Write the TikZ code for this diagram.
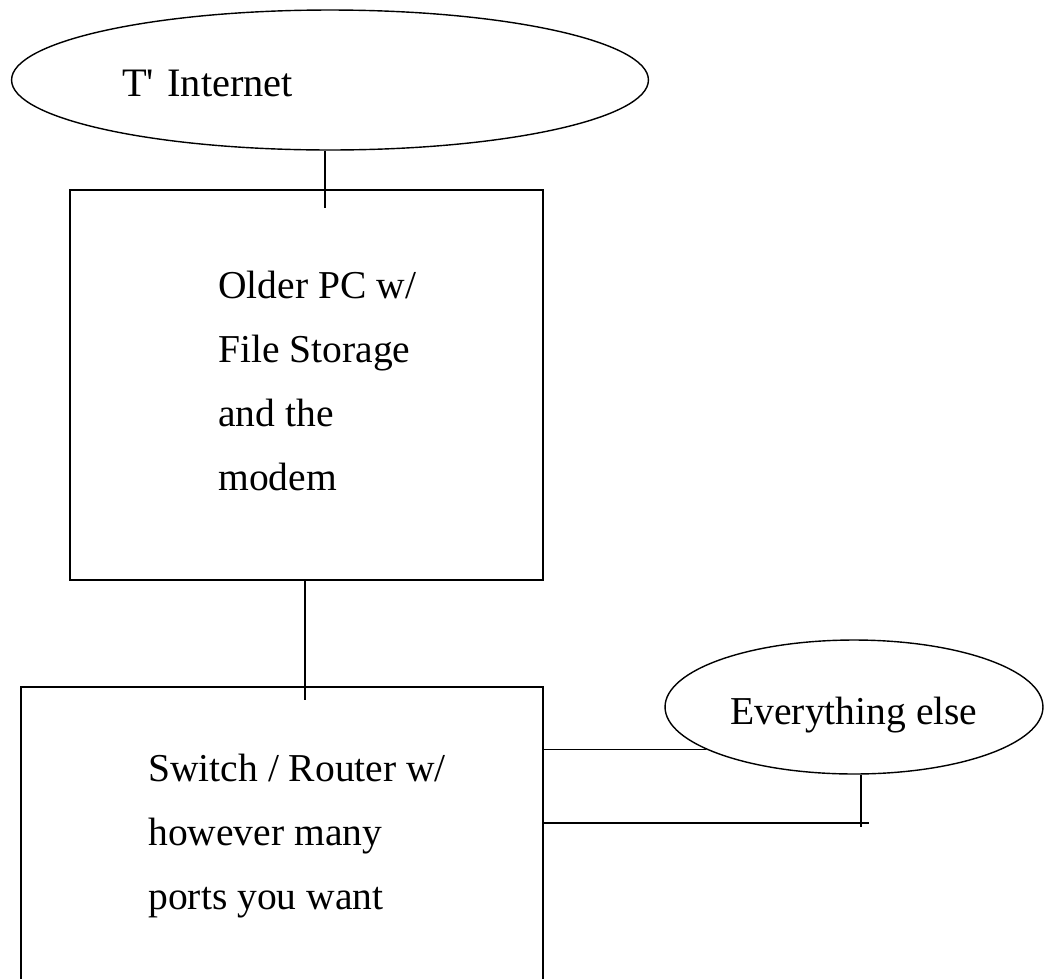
\documentclass[tikz,border=0pt]{standalone}
\usepackage{fontspec}
\setmainfont{Liberation Serif}
\usepackage{tikz}
\usetikzlibrary{shapes.geometric, positioning, calc}

\tikzset{
  netblob/.style={draw, ellipse, line width=0.8pt, inner sep=0pt, text depth=0pt},
  boxnode/.style={draw, rectangle, line width=0.8pt, inner sep=0pt},
  boxtext/.style={anchor=west, align=left, inner sep=0pt, font=\fontsize{22.5}{36.4}\selectfont},
  wire/.style={line width=0.8pt}
}

\begin{document}
\begin{tikzpicture}[x=0.02cm, y=-0.02cm]
  \path[use as bounding box, clip] (0,0) rectangle (1045,978);

  % Internet cloud
  \node[netblob, minimum width=12.74cm, minimum height=2.8cm, text width=8.32cm, align=left,
        text height=0.64cm, font=\fontsize{23}{28}\selectfont] (internet) at (330,80) {T\textquotesingle{} Internet};

  % Older PC
  \node[boxnode, minimum width=9.46cm, minimum height=7.8cm] (pc) at (306.5,385) {};
  \node[boxtext] (pctext) at (218,381) {Older PC w/\\File Storage\\and the\\modem};

  % Switch / Router
  \node[boxnode, minimum width=10.44cm, minimum height=8.26cm] (sw) at (282,893.5) {};
  \node[boxtext] (swtext) at (148,836) {Switch / Router w/\\however many\\ports you want};

  % Everything else
  \node[netblob, minimum width=7.56cm, minimum height=2.68cm, text height=0.68cm,
        font=\fontsize{22.5}{28}\selectfont] (else) at (854,707) {Everything else};

  % Wires
  \coordinate (inetdrop) at (325,208);
  \coordinate (pcdrop) at (305,700);
  \coordinate (elsedrop) at (861,827);
  \coordinate (lowend) at (869,823);

  \draw[wire] (internet.south -| inetdrop) -- (inetdrop);
  \draw[wire] (pc.south -| pcdrop) -- (pcdrop);
  \draw[wire] (sw.east |- else.196) -- (else.196);
  \draw[wire] (sw.east |- lowend) -- (lowend);
  \draw[wire] (else.south -| elsedrop) -- (elsedrop);
\end{tikzpicture}
\end{document}
